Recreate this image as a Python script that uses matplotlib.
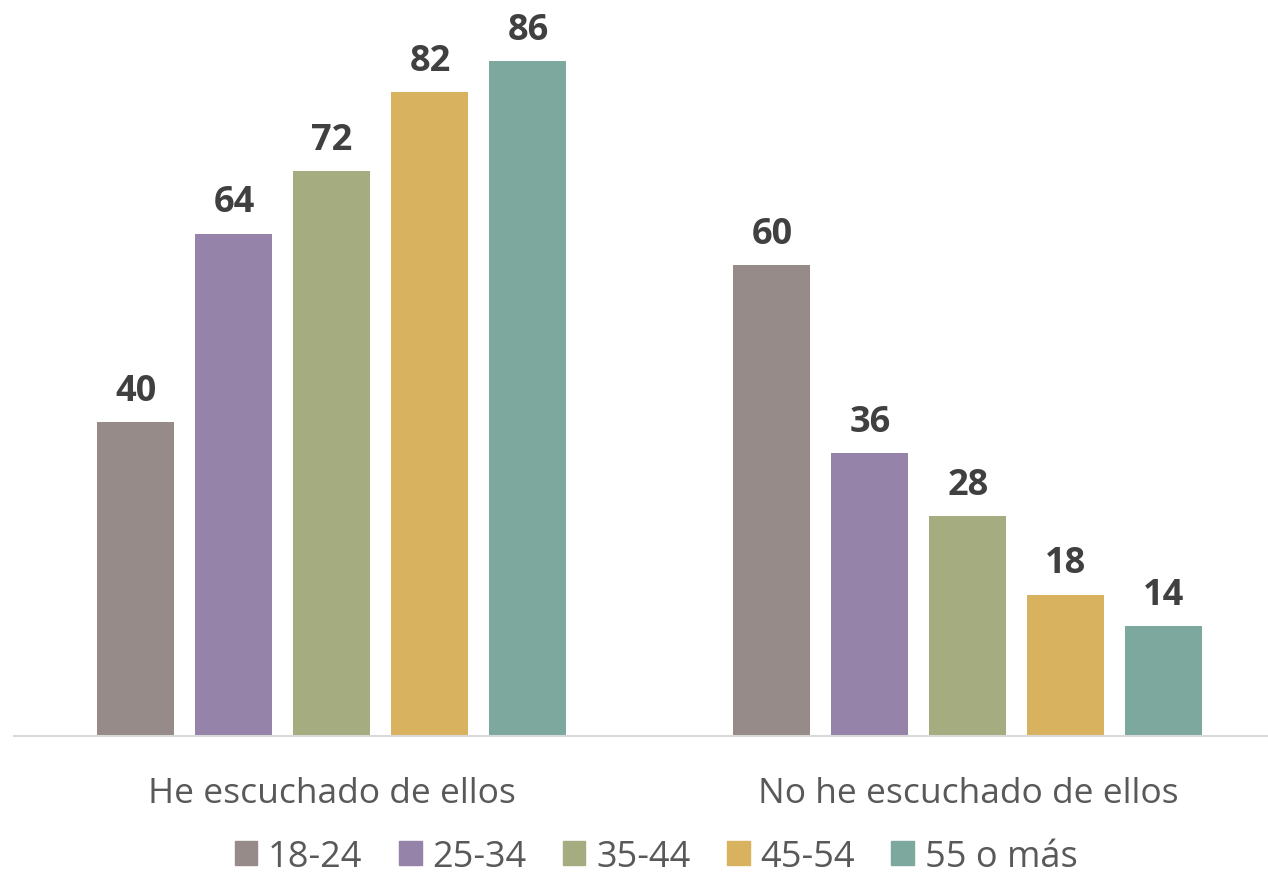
import numpy as np
import matplotlib.pyplot as plt
from matplotlib.patches import Patch

categories = ['He escuchado de ellos', 'No he escuchado de ellos']
age_groups = ['18-24', '25-34', '35-44', '45-54', '55 o más']
values = {
    '18-24': [40, 60],
    '25-34': [64, 36],
    '35-44': [72, 28],
    '45-54': [82, 18],
    '55 o más': [86, 14],
}
colors = ['#968B89', '#9683A9', '#A5AD80', '#D8B25E', '#7DA89D']

plt.rcParams['font.family'] = ['Open Sans', 'DejaVu Sans']

W, H = 1268, 879
fig = plt.figure(figsize=(W / 100, H / 100), dpi=100)
ax = fig.add_axes([14 / W, 1 - 737 / H, 1 - 14 / W, 737 / H])

x = np.arange(len(categories))
step = 98 / 636
width = 77 / 636
for j, g in enumerate(age_groups):
    pos = x + (j - 2) * step
    bars = ax.bar(pos, values[g], width, color=colors[j], zorder=2)
    for b, v in zip(bars, values[g]):
        ax.text(b.get_x() + b.get_width() / 2, v + 1.7, str(v),
                ha='center', va='bottom', fontsize=26, fontweight='bold',
                color='#404040')

ax.set_xlim(-0.5, 1.472)
ax.set_ylim(0, 93.9)
for s in ['top', 'right', 'left']:
    ax.spines[s].set_visible(False)
ax.spines['bottom'].set_color('#D9D9D9')
ax.spines['bottom'].set_linewidth(1.5)
ax.set_yticks([])
ax.set_xticks(x)
ax.set_xticklabels(categories, fontsize=25.5, color='#595959')
ax.tick_params(axis='x', length=0, pad=29)

handles = [Patch(color=c, label=g) for c, g in zip(colors, age_groups)]
fig.legend(handles=handles, loc='center', bbox_to_anchor=(656 / W, 1 - 858 / H),
           ncol=5, frameon=False, fontsize=26, labelcolor='#595959',
           handlelength=0.63, handleheight=0.63, handletextpad=0.3,
           columnspacing=1.0, borderpad=0.0)

fig.savefig('out.png', dpi=100)
